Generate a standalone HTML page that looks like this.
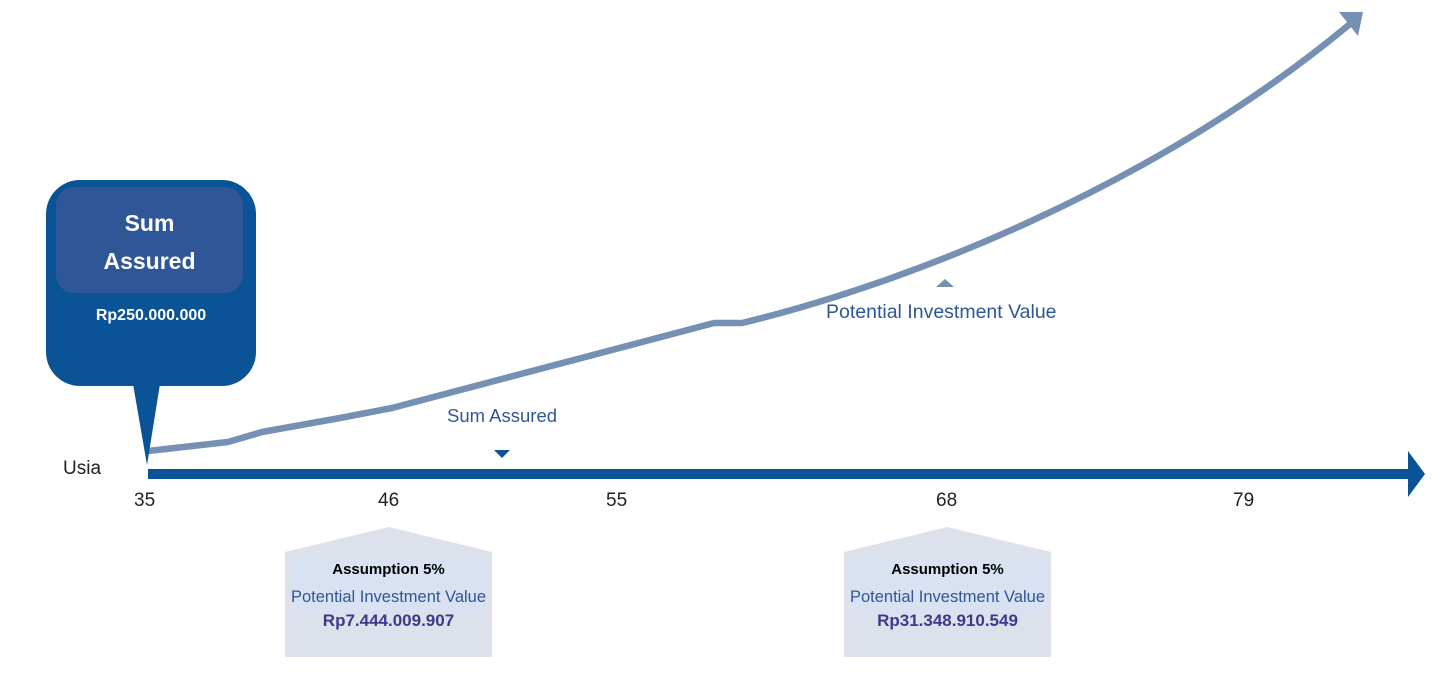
<!DOCTYPE html>
<html><head><meta charset="utf-8"><style>
body{margin:0;width:1443px;height:692px;background:#fff;overflow:hidden;position:relative;font-family:"Liberation Sans",sans-serif}
.t{position:absolute;white-space:nowrap}
</style></head><body>
<svg width="1443" height="692" style="position:absolute;left:0;top:0">
<path fill="none" stroke="#7590b3" stroke-width="6.5" stroke-linejoin="round" d="M148,451 L228,442 L262,432 L340,418 L392,408 L714,323 L742,323 C900,285 1150,190 1350,24"/>
<polygon fill="#7590b3" points="1339,12 1363,12 1358,36"/>
<rect x="148" y="469" width="1262" height="10" fill="#0a5396"/>
<polygon fill="#0a5396" points="1408,451 1425,474 1408,497"/>
<polygon fill="#0a5396" points="494,450 510,450 502,458"/>
<polygon fill="#7590b3" points="936,287 954,287 945,279"/>
<rect x="46" y="180" width="210" height="206" rx="34" fill="#0a5396"/>
<polygon fill="#0a5396" points="133,384 160,384 147,465"/>
<rect x="56" y="187" width="187" height="106" rx="18" fill="#2f5696"/>
<polygon fill="#dde1eb" points="285,552 389,527 492,552 492,657 285,657"/>
<rect x="291" y="557" width="195" height="55" rx="8" fill="#d9e2f2"/>
<polygon fill="#dde1eb" points="844,552 947,527 1051,552 1051,657 844,657"/>
<rect x="850" y="557" width="195" height="55" rx="8" fill="#d9e2f2"/>
</svg>
<div class="t" style="left:56px;width:187px;top:204px;text-align:center;color:#fff;font-weight:bold;font-size:23px;line-height:38px">Sum<br>Assured</div>
<div class="t" style="left:46px;width:210px;top:307px;text-align:center;color:#fff;font-weight:bold;font-size:16px">Rp250.000.000</div>
<div class="t" style="left:63px;top:458px;font-size:19px;color:#222">Usia</div>
<div class="t" style="left:134px;top:490px;font-size:19px;color:#222">35</div>
<div class="t" style="left:378px;top:490px;font-size:19px;color:#222">46</div>
<div class="t" style="left:606px;top:490px;font-size:19px;color:#222">55</div>
<div class="t" style="left:936px;top:490px;font-size:19px;color:#222">68</div>
<div class="t" style="left:1233px;top:490px;font-size:19px;color:#222">79</div>
<div class="t" style="left:447px;top:405px;font-size:18.5px;color:#2f5696">Sum Assured</div>
<div class="t" style="left:826px;top:301px;font-size:19.5px;color:#2f5696">Potential Investment Value</div>
<div class="t" style="left:285px;width:207px;top:561px;text-align:center;font-weight:bold;font-size:15px;color:#000">Assumption 5%</div>
<div class="t" style="left:285px;width:207px;top:588px;text-align:center;font-size:16.5px;color:#2f5696">Potential Investment Value</div>
<div class="t" style="left:285px;width:207px;top:611px;text-align:center;font-weight:bold;font-size:17px;color:#3d3a8c">Rp7.444.009.907</div>
<div class="t" style="left:844px;width:207px;top:561px;text-align:center;font-weight:bold;font-size:15px;color:#000">Assumption 5%</div>
<div class="t" style="left:844px;width:207px;top:588px;text-align:center;font-size:16.5px;color:#2f5696">Potential Investment Value</div>
<div class="t" style="left:844px;width:207px;top:611px;text-align:center;font-weight:bold;font-size:17px;color:#3d3a8c">Rp31.348.910.549</div>
</body></html>
